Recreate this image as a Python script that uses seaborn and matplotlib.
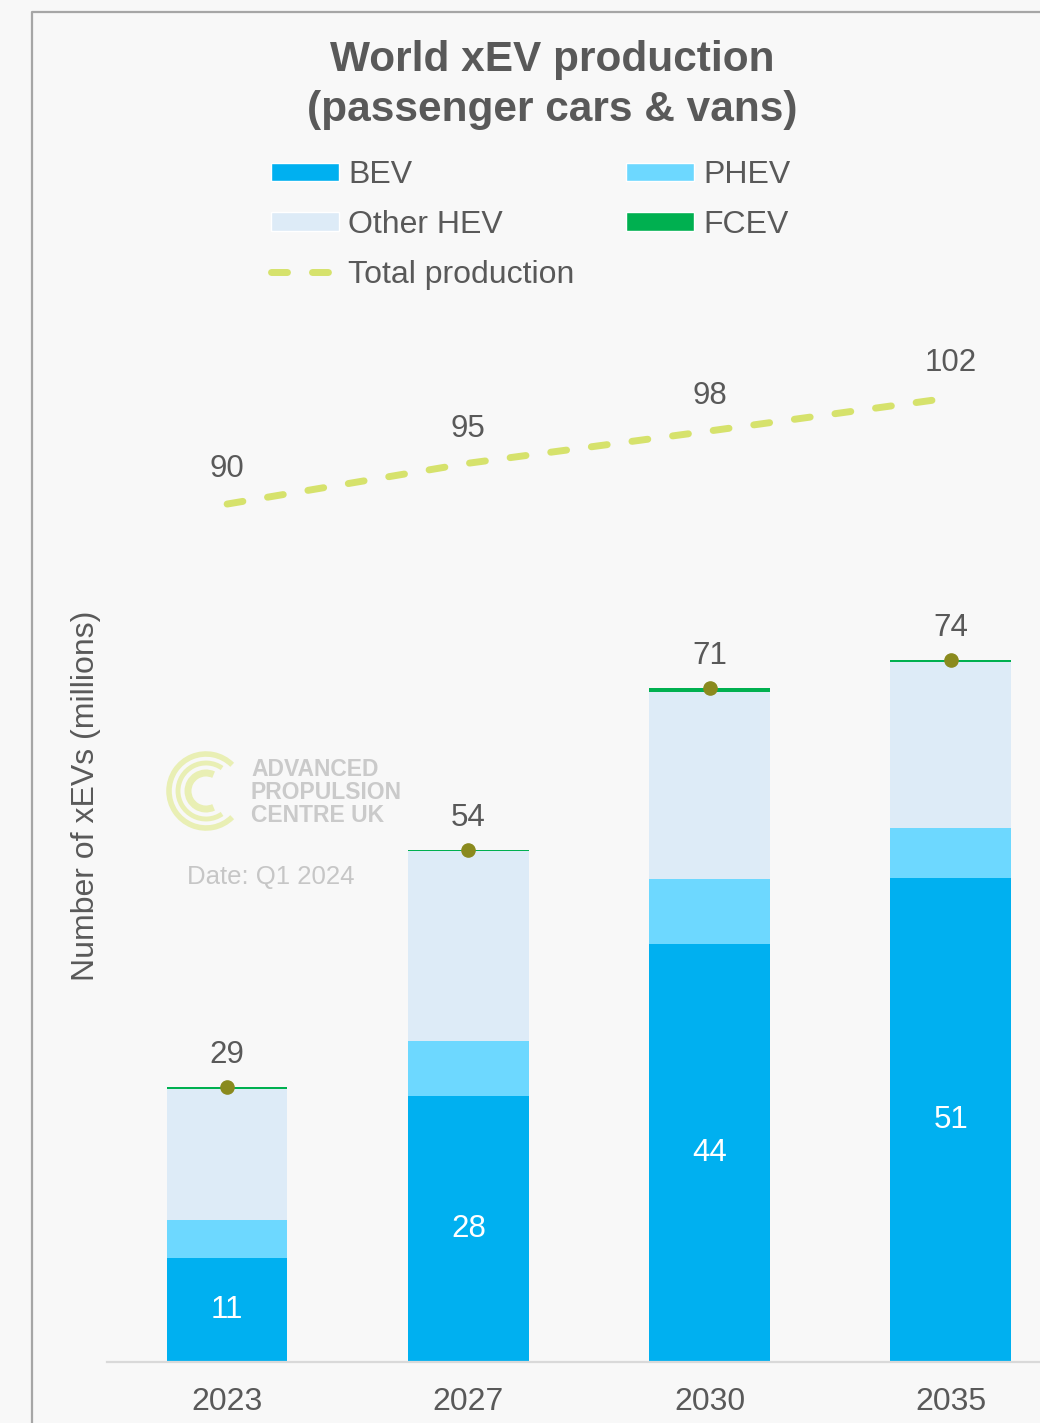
import numpy as np
import matplotlib
matplotlib.use('Agg')
import matplotlib.pyplot as plt
import seaborn as sns
from matplotlib.patches import Patch, Arc
from matplotlib.lines import Line2D

# data (millions)
years = ['2023', '2027', '2030', '2035']
bev = [11, 28, 44, 51]
phev = [4.0, 5.8, 6.9, 5.3]
other_hev = [13.8, 20.0, 19.7, 17.5]
fcev = [0.2, 0.2, 0.4, 0.2]
total_production = [90.4, 94.7, 98.1, 101.6]

series_names = ['BEV', 'PHEV', 'Other HEV', 'FCEV']
series_colors = ['#00b0f0', '#6dd8ff', '#ddebf7', '#00b050']
line_color = '#d6e26c'
dot_color = '#8a8a1e'
text_color = '#595959'
bg = '#f8f8f8'

sns.set_theme(style='white')
plt.rcParams['font.family'] = ['Liberation Sans', 'DejaVu Sans']

W, H = 1040, 1423
fig = plt.figure(figsize=(W / 100, H / 100), dpi=100, facecolor=bg)
ax = fig.add_axes([107 / W, 61 / H, 1 - 107 / W, (1362 - 300) / H])
ax.set_facecolor(bg)

# stacked bars: draw cumulative heights from the top layer down
layers = np.cumsum(np.array([bev, phev, other_hev, fcev]), axis=0)
for i in range(3, -1, -1):
    sns.barplot(x=years, y=layers[i], color=series_colors[i], width=0.5,
                saturation=1, errorbar=None, linewidth=0, ax=ax)

totals = layers[-1]
xs = np.arange(len(years))

# total production dashed line
ax.plot(xs, total_production, color=line_color, lw=5, dashes=(2.3, 3.6),
        dash_capstyle='round', zorder=4)
ax.plot(xs, totals, 'o', color=dot_color, ms=9.5, zorder=5)

for x, v in zip(xs, total_production):
    ax.annotate(f'{v:.0f}', (x, v), xytext=(0, 25), textcoords='offset points',
                ha='center', va='center', fontsize=22.5, color=text_color)
for x, v in zip(xs, totals):
    ax.annotate(f'{v:.0f}', (x, v), xytext=(0, 23), textcoords='offset points',
                ha='center', va='center', fontsize=22.5, color=text_color)
for x, v in zip(xs, bev):
    ax.text(x, v / 2, f'{v:.0f}', ha='center', va='center', fontsize=22.5, color='white')

ax.set_xlim(-0.498, 3.37)
ax.set_ylim(0, 111.9)
ax.set_yticks([])
ax.set_xlabel('')
ax.set_ylabel('')
for s in ['top', 'right', 'left']:
    ax.spines[s].set_visible(False)
ax.spines['bottom'].set_color('#d9d9d9')
ax.spines['bottom'].set_linewidth(1.6)
ax.tick_params(axis='x', length=0, pad=18, labelsize=23, labelcolor=text_color)

# title and axis label
fig.text(552 / W, 1 - 85 / H, 'World xEV production\n(passenger cars & vans)',
         ha='center', va='center', fontsize=30.5, fontweight='bold',
         color=text_color, linespacing=1.3)
fig.text(86 / W, 1 - 796 / H, 'Number of xEVs (millions)', rotation=90,
         ha='center', va='center', fontsize=23, color=text_color)

# legend
handles = [Patch(facecolor=series_colors[0], label='BEV'),
           Patch(facecolor=series_colors[2], label='Other HEV'),
           Line2D([], [], color=line_color, lw=5, dashes=(2.3, 3.6),
                  dash_capstyle='round', label='Total production'),
           Patch(facecolor=series_colors[1], label='PHEV'),
           Patch(facecolor=series_colors[3], label='FCEV')]
fig.legend(handles=handles, ncol=2, loc='upper left',
           bbox_to_anchor=(271 / W, 1 - 160 / H), frameon=False,
           fontsize=23, labelcolor=text_color, handlelength=2.13,
           handleheight=0.5, handletextpad=0.28, columnspacing=1.62,
           labelspacing=0.62, borderpad=0, borderaxespad=0)

# watermark logo and date
logo_c = (206 / 100, (H - 791) / 100)
for r, t1, t2, lw in [(0.37, 45, 315, 4), (0.28, 55, 305, 3.5), (0.18, 65, 295, 5)]:
    fig.add_artist(Arc(logo_c, 2 * r, 2 * r, theta1=t1, theta2=t2, lw=lw,
                       color='#e9efb4', transform=fig.dpi_scale_trans))
fig.text(251 / W, 1 - 792 / H, 'ADVANCED\nPROPULSION\nCENTRE UK', ha='left',
         va='center', fontsize=16.5, fontweight='semibold', color='#cacaca',
         linespacing=1.0)
fig.text(187 / W, 1 - 877 / H, 'Date: Q1 2024', ha='left', va='center',
         fontsize=18.5, color='#c6c6c6')

# outer frame
fig.add_artist(Line2D([32 / W, 32 / W, 1], [0, 1 - 12 / H, 1 - 12 / H],
                      color='#a6a6a6', lw=1.6, transform=fig.transFigure))

fig.savefig('out.png', dpi=100, facecolor=bg)
